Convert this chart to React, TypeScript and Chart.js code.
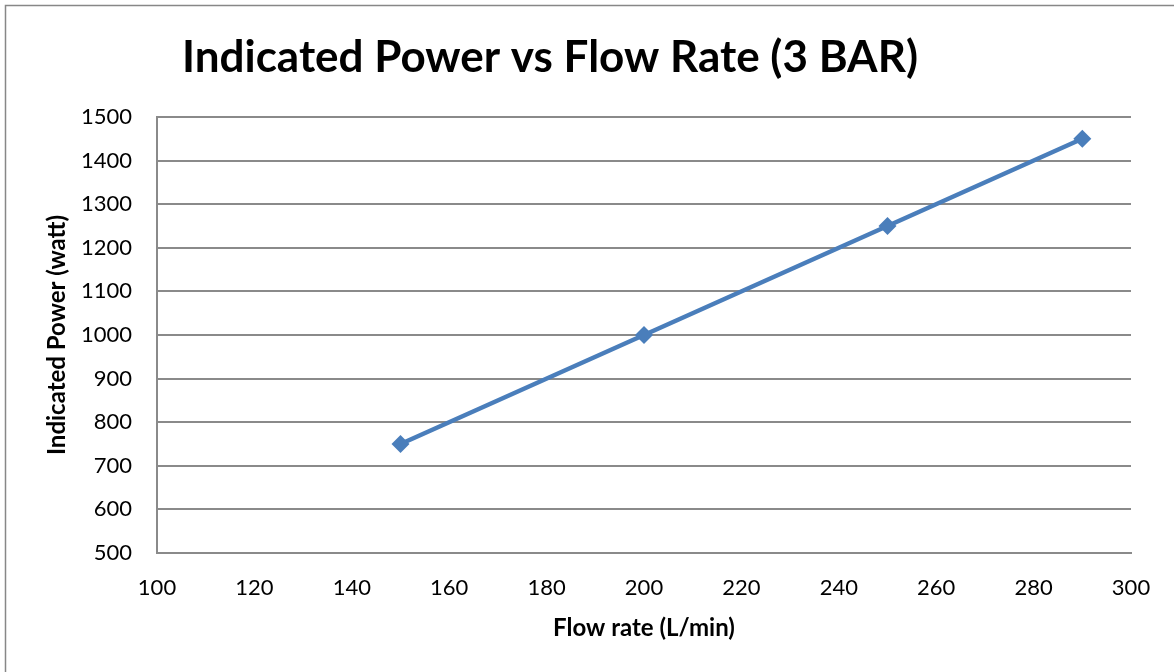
import React, { useEffect, useRef } from "react";
import { Chart, registerables } from "chart.js";

Chart.register(...registerables);

const chartTitle = "Indicated Power vs Flow Rate (3 BAR)";
const xAxisTitle = "Flow rate (L/min)";
const yAxisTitle = "Indicated Power (watt)";
const flowRates = [150, 200, 250, 290];
const indicatedPower = [750, 1000, 1250, 1450];
const xMin = 100, xMax = 300, xStep = 20;
const yMin = 500, yMax = 1500, yStep = 100;

const FONT = "Lato, 'Open Sans', sans-serif";
const GRID = "#8a8a8a";
const BLUE = "#4a7ebb";

export default function App() {
  const ref = useRef<HTMLCanvasElement | null>(null);
  useEffect(() => {
    if (!ref.current) return;
    const frame = {
      id: "frame",
      afterDraw(chart: any) {
        const ctx = chart.ctx;
        ctx.save();
        ctx.strokeStyle = "#878787";
        ctx.lineWidth = 1.5;
        ctx.strokeRect(5.5, 5.5, 1200, 700);
        ctx.fillStyle = "#000";
        ctx.font = `bold 44px ${FONT}`;
        ctx.textAlign = "center";
        ctx.textBaseline = "alphabetic";
        ctx.fillText(chartTitle, 550, 72);
        ctx.restore();
      },
    };
    const chart = new Chart(ref.current, {
      type: "line",
      data: {
        datasets: [
          {
            data: flowRates.map((x, i) => ({ x, y: indicatedPower[i] })),
            borderColor: BLUE,
            backgroundColor: BLUE,
            borderWidth: 4.5,
            pointStyle: "rectRot",
            pointRadius: 9,
            pointBorderWidth: 0,
            pointBackgroundColor: BLUE,
            tension: 0,
          },
        ],
      },
      options: {
        animation: false,
        responsive: false,
        layout: { padding: { left: 0, right: 43, top: 117, bottom: 0 } },
        plugins: { legend: { display: false }, title: { display: false }, tooltip: { enabled: false } },
        scales: {
          x: {
            type: "linear",
            min: xMin,
            max: xMax,
            ticks: {
              stepSize: xStep,
              padding: 22,
              color: "#000",
              font: { family: FONT, size: 22 },
              callback: (v: any) => String(v),
            },
            grid: { display: false, drawTicks: false },
            border: { display: true, color: GRID, width: 2 },
            title: {
              display: true,
              text: xAxisTitle,
              color: "#000",
              font: { family: FONT, size: 24, weight: "bold" },
              padding: { top: 0, bottom: 29 },
            },
            afterFit(scale: any) {
              scale.height = 119;
            },
          },
          y: {
            min: yMin,
            max: yMax,
            ticks: {
              stepSize: yStep,
              padding: 25,
              color: "#000",
              font: { family: FONT, size: 22 },
              callback: (v: any) => String(v),
            },
            grid: { color: GRID, lineWidth: 2, drawTicks: false },
            border: { display: true, color: GRID, width: 2 },
            title: {
              display: true,
              text: yAxisTitle,
              color: "#000",
              font: { family: FONT, size: 24, weight: "bold" },
              padding: { top: 43, bottom: 0 },
            },
            afterFit(scale: any) {
              scale.width = 157;
            },
          },
        },
      },
      plugins: [frame],
    } as any);
    return () => chart.destroy();
  }, []);
  return (
    <div style={{ position: "absolute", left: 0, top: 0, width: 1174, height: 672, background: "#fff" }}>
      <canvas ref={ref} width={1174} height={672} style={{ width: 1174, height: 672, display: "block" }} />
    </div>
  );
}
